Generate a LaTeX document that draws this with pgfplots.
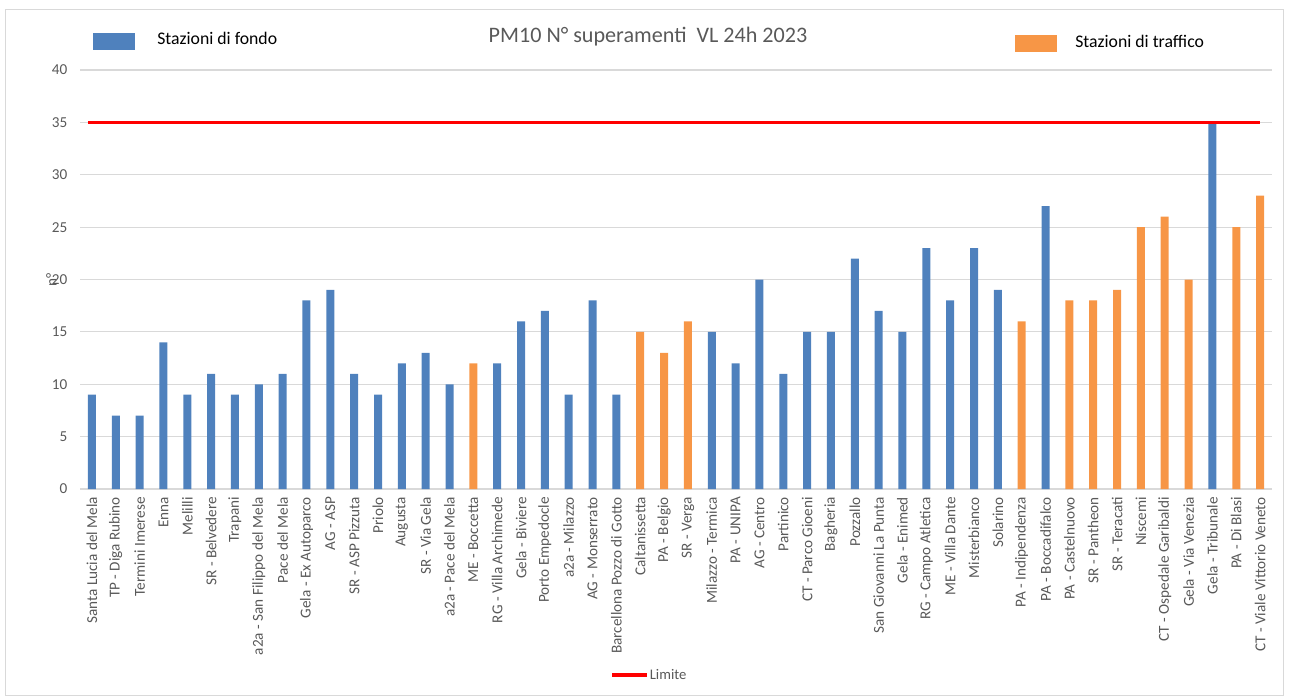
\documentclass[border=0pt]{standalone}
\usepackage{pgfplots}
\pgfplotsset{compat=1.18}
\usepackage{fontspec}
\setmainfont{Carlito}
\definecolor{cblue}{HTML}{4F81BD}
\definecolor{corange}{HTML}{F79646}
\definecolor{tgray}{HTML}{595959}
\definecolor{ggray}{HTML}{D9D9D9}
\begin{document}
\begin{tikzpicture}
\path (0pt,0pt) rectangle (971.25pt,-522pt);
\draw[ggray, line width=0.75pt] (3.75pt,-6.75pt) rectangle (962.25pt,-521.25pt);
\begin{axis}[
  at={(60pt,-366.75pt)}, anchor=south west,
  scale only axis, width=894pt, height=314.25pt,
  xmin=-0.5, xmax=49.5, ymin=0, ymax=40,
  ytick={0,5,...,40},
  xtick={0,...,49},
  xticklabels={Santa Lucia del Mela,TP - Diga Rubino,Termini Imerese,Enna,Melilli,SR - Belvedere,Trapani,a2a - San Filippo del Mela,Pace del Mela,Gela - Ex Autoparco,AG - ASP,SR - ASP Pizzuta,Priolo,Augusta,SR - Via Gela,a2a - Pace del Mela,ME - Boccetta,RG - Villa Archimede,Gela - Biviere,Porto Empedocle,a2a - Milazzo,AG - Monserrato,Barcellona Pozzo di Gotto,Caltanissetta,PA - Belgio,SR - Verga,Milazzo - Termica,PA - UNIPA,AG - Centro,Partinico,CT - Parco Gioeni,Bagheria,Pozzallo,San Giovanni La Punta,Gela - Enimed,RG - Campo Atletica,ME - Villa Dante,Misterbianco,Solarino,PA - Indipendenza,PA - Boccadifalco,PA - Castelnuovo,SR - Pantheon,SR - Teracati,Niscemi,CT - Ospedale Garibaldi,Gela - Via Venezia,Gela - Tribunale,PA - Di Blasi,CT - Viale Vittorio Veneto},
  axis line style={draw=none},
  major tick length=0pt,
  ymajorgrids, grid style={ggray, line width=0.9pt},
  /pgf/number format/assume math mode=true,
  xticklabel style={yshift=-2.5pt, rotate=90, anchor=east, font=\fontsize{11.4}{12}\selectfont, text=tgray},
  yticklabel style={xshift=-6pt, font=\fontsize{11.4}{12}\selectfont, text=tgray},
  ylabel={n°},
  ylabel style={at={(axis description cs:-0.024,0.5)}, anchor=center, font=\fontsize{11.4}{12}\selectfont, text=tgray},
  legend style={draw=none, fill=none, inner sep=0pt, outer sep=0pt,
    at={(axis description cs:0.4450,-0.4439)}, anchor=west,
    nodes={inner sep=1pt, text=tgray, font=\fontsize{11}{12}\selectfont}},
  legend image code/.code={\draw[#1] (0pt,0pt) -- (26pt,0pt);},
]
\addplot[ybar, bar width=6pt, bar shift=0pt, fill=cblue, draw=none, forget plot] coordinates {
(0,9) (1,7) (2,7) (3,14) (4,9) (5,11) (6,9) (7,10) (8,11) (9,18) (10,19) (11,11) (12,9) (13,12) (14,13) (15,10)
(17,12) (18,16) (19,17) (20,9) (21,18) (22,9)
(26,15) (27,12) (28,20) (29,11) (30,15) (31,15) (32,22) (33,17) (34,15) (35,23) (36,18) (37,23) (38,19)
(40,27) (47,35)};
\addplot[ybar, bar width=6pt, bar shift=0pt, fill=corange, draw=none, forget plot] coordinates {
(16,12) (23,15) (24,13) (25,16) (39,16) (41,18) (42,18) (43,19) (44,25) (45,26) (46,20) (48,25) (49,28)};
\addplot[red, line width=2.5pt, mark=none] coordinates {(-0.15,35) (49,35)};
\addlegendentry{Limite}
\end{axis}
\fill[cblue] (69.75pt,-24.75pt) rectangle (101.25pt,-37.5pt);
\node[anchor=base west, inner sep=0pt, font=\fontsize{13.3}{15}\selectfont] at (117.75pt,-33.2pt) {Stazioni di fondo};
\fill[corange] (761.25pt,-26.25pt) rectangle (792.75pt,-39pt);
\node[anchor=base west, inner sep=0pt, font=\fontsize{13.3}{15}\selectfont] at (806.25pt,-35.7pt) {Stazioni di traffico};
\node[anchor=base, inner sep=0pt, font=\fontsize{16.6}{19}\selectfont, text=tgray] at (486pt,-32pt) {PM10 N° superamenti\hspace{0.45em}VL 24h 2023};
\end{tikzpicture}
\end{document}
